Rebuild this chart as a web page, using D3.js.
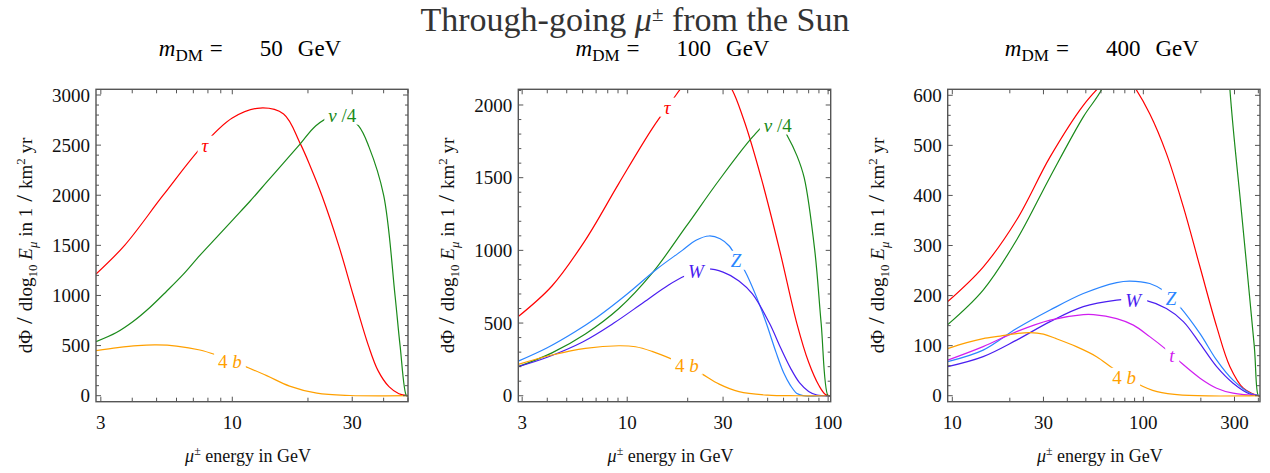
<!DOCTYPE html>
<html><head><meta charset="utf-8">
<script src="https://cdn.jsdelivr.net/npm/d3@7"></script>
<style>
body{margin:0;background:#fff;}
text{font-family:"Liberation Serif","DejaVu Serif",serif;}
</style></head>
<body><svg id="chart" width="1270" height="473"></svg>
<script>
// ---------- data ----------
const mainTitle = ["Through-going ", "μ", "±", " from the Sun"];
const panelMasses = [50, 100, 400];
const xDomains = [[2.87, 50], [2.87, 103], [9.46, 408]];
const yDomains = [[-60, 3057], [-41, 2108], [-12, 612]];
const xTickLabels = [[3, 10, 30], [3, 10, 30, 100], [10, 30, 100, 300]];
const xMinorTicks = [[4,5,6,7,8,9,20,40,50], [4,5,6,7,8,9,20,40,50,60,70,80,90], [20,40,50,60,70,80,90,200,400]];
const yTickLabels = [[0,500,1000,1500,2000,2500,3000], [0,500,1000,1500,2000], [0,100,200,300,400,500,600]];
const yMinorStep = [100, 100, 20];

// panel m=50 GeV  ([E in GeV, flux])
const tau50 = [[2.87,1214],[3.73,1500],[5.31,2000],[7.66,2500],[10,2770],[12.9,2870],[16,2810],[18.6,2520],[20.5,2280],[22.7,2000],[26.5,1500],[30.3,1000],[34.8,500],[38,250],[42,90],[46,20],[50,0]];
const nu50 = [[2.87,539],[3.46,630],[4.03,740],[4.7,880],[5.47,1040],[6.38,1210],[7.43,1400],[8.66,1580],[10.09,1760],[11.76,1940],[13.7,2130],[15.97,2320],[18.6,2510],[21.5,2694],[25,2790],[28,2790],[31.8,2691],[35,2480],[40,2000],[44.4,1000],[46.5,500],[49.3,0],[50,0]];
const b50 = [[2.87,449],[3.5,480],[4.2,500],[5,506],[6,495],[7.43,456],[8.66,406],[9.8,356],[11.06,300],[13.7,200],[16.9,96],[21.7,25],[29.4,2],[50,0]];

// panel m=100 GeV
const tau100 = [[2.87,545],[4.22,755],[6.19,1071],[9.09,1461],[13.34,1839],[16.8,2034],[18.8,2126],[25,2300],[32.2,2140],[38,1900],[46.4,1500],[57.4,1000],[69.8,500],[80,230],[90,70],[97,8],[103,0]];
const nu100 = [[2.87,200],[4.22,295],[6.19,425],[9.09,600],[13.34,845],[19.6,1163],[28.7,1484],[42.2,1782],[50,1880],[56,1890],[63,1782],[70,1650],[76,1500],[85.8,1000],[92.3,500],[100,0],[103,0]];
const Z100 = [[2.87,238],[4,330],[5.5,440],[7.08,540],[10,700],[14,870],[18.8,1000],[22,1070],[25.6,1099],[29,1080],[32.2,1030],[35,950],[38.3,865],[44,680],[49.2,500],[55,300],[60,160],[65,70],[70,15],[75,1],[103,0]];
const W100 = [[2.87,200],[4,265],[6,370],[8.58,500],[12,640],[16,760],[19.5,825],[25,872],[30,850],[36,790],[42,700],[51,500],[58,330],[65,190],[72,90],[80,30],[88,5],[103,0]];
const b100 = [[2.87,216],[4.22,280],[6.19,326],[9.09,344],[11,337],[13.3,305],[16.8,250],[19.8,205],[23.3,154],[28.7,80],[36,28],[50,4],[70,0],[103,0]];

// panel m=400 GeV
const tau400 = [[9.46,188],[14.5,257],[21.7,351],[32.5,477],[48.5,580],[61.7,625],[75,655],[88.7,620],[108,563],[132,484],[162,377],[198,257],[242,138],[284,58],[334,15],[400,0],[408,0]];
const nu400 = [[9.46,142],[14.5,211],[21.7,311],[32.5,437],[48.5,557],[60.6,612],[75,700],[100,900],[160,1200],[210,1300],[250,1000],[284,611],[327,364],[381,98],[400,0],[408,0]];
const Z400 = [[9.46,68],[14.5,91],[21.7,134],[32.5,171],[48.5,204],[72.5,226],[85,229],[108,224],[130,208],[155,178],[198,124],[242,71],[295,31],[363,5],[408,0]];
const W400 = [[9.46,58],[14.5,78],[21.7,111],[32.5,148],[48.5,178],[72.5,191],[88,193],[102,191],[132,174],[162,148],[198,104],[242,58],[295,25],[363,3],[408,0]];
const t400 = [[9.46,71],[14.5,98],[21.7,128],[32.5,151],[48.5,162],[54.8,162],[72.5,154],[88.7,141],[108,118],[130,94],[152,71],[198,35],[242,15],[295,5],[408,0]];
const b400 = [[9.46,94],[11.9,106],[14.5,114],[17.8,119],[21.7,124],[25.5,126],[30,123],[35,114],[44.6,98],[56.9,78],[68,57],[79.4,40],[92,25],[118,8],[160,1],[408,0]];

// series per panel: [key, data, label anchor [E, value]]
const seriesPanel = [
  [["tau", tau50, [7.79, 2501]], ["nu", nu50, [27.4, 2801]], ["b", b50, [9.79, 346]]],
  [["tau", tau100, [15.8, 1986]], ["nu", nu100, [56.2, 1863]], ["Z", Z100, [34.8, 933]], ["W", W100, [22, 857]], ["b", b100, [19.8, 211]]],
  [["tau", tau400, null], ["nu", nu400, null], ["Z", Z400, [139.6, 195]], ["W", W400, [88.4, 191]], ["t", t400, [141, 81]], ["b", b400, [79.4, 37]]]
];

// ---------- style ----------
const colors = {tau:"#ff0000", nu:"#1a8a1a", b:"#ffa000", Z:"#2a85ff", W:"#4a1ef0", t:"#d01ef0"};
const labelParts = {
  tau: [["τ", true]],
  nu: [["ν", true], [" /4", false]],
  b: [["4 ", false], ["b", true]],
  Z: [["Z", true]], W: [["W", true]], t: [["t", true]]
};
const frames = [{left:96, right:408}, {left:518.3, right:830.7}, {left:947.7, right:1260}];
const plotTop = 89.3, plotBottom = 401.7;
const frameColor = "#555";

const svg = d3.select("#chart");
const defs = svg.append("defs");

svg.append("text").attr("x", 635).attr("y", 31).attr("text-anchor", "middle")
  .attr("font-size", 34).attr("fill", "#333")
  .call(t => {
    t.append("tspan").text(mainTitle[0]);
    t.append("tspan").attr("font-style", "italic").text(mainTitle[1]);
    t.append("tspan").attr("font-size", 21).attr("dy", -10).text(mainTitle[2]);
    t.append("tspan").attr("dy", 10).text(mainTitle[3]);
  });

panelMasses.forEach((m, p) => {
  const f = frames[p];
  const x = d3.scaleLog().domain(xDomains[p]).range([f.left, f.right]);
  const y = d3.scaleLinear().domain(yDomains[p]).range([plotBottom, plotTop]);
  const g = svg.append("g");
  const cx = (f.left + f.right) / 2;

  // panel title
  g.append("text").attr("x", cx - 2).attr("y", 56).attr("text-anchor", "middle")
    .attr("font-size", 23).attr("fill", "#000")
    .call(t => {
      t.append("tspan").attr("font-style", "italic").text("m");
      t.append("tspan").attr("font-size", 17).attr("dy", 5).text("DM");
      t.append("tspan").attr("dy", -5).attr("dx", 7).text("=");
      t.append("tspan").attr("dx", 37).text(m);
      t.append("tspan").attr("dx", 15).text("GeV");
    });

  // clip
  defs.append("clipPath").attr("id", "clip" + p).append("rect")
    .attr("x", f.left).attr("y", plotTop).attr("width", f.right - f.left).attr("height", plotBottom - plotTop);
  const plot = g.append("g").attr("clip-path", `url(#clip${p})`);

  const line = d3.line().x(d => x(d[0])).y(d => y(d[1])).curve(d3.curveCatmullRom.alpha(0.5));

  seriesPanel[p].forEach(([key, data, lab], i) => {
    const path = plot.append("path").datum(data).attr("d", line)
      .attr("fill", "none").attr("stroke", colors[key]).attr("stroke-width", 1.2);
    if (lab) {
      const txt = plot.append("text").attr("x", x(lab[0])).attr("y", y(lab[1])).attr("dy", "0.35em")
        .attr("text-anchor", "middle").attr("font-size", 19).attr("fill", colors[key]).style("white-space", "pre");
      labelParts[key].forEach(([s, it]) => txt.append("tspan").attr("font-style", it ? "italic" : "normal").text(s));
      const bb = txt.node().getBBox();
      const id = `mask${p}_${i}`;
      const mk = defs.append("mask").attr("id", id).attr("maskUnits", "userSpaceOnUse")
        .attr("x", 0).attr("y", 0).attr("width", 1270).attr("height", 473);
      mk.append("rect").attr("x", 0).attr("y", 0).attr("width", 1270).attr("height", 473).attr("fill", "white");
      mk.append("rect").attr("x", bb.x - 4).attr("y", bb.y + 1).attr("width", bb.width + 8).attr("height", bb.height - 2).attr("fill", "black");
      path.attr("mask", `url(#${id})`);
    }
  });

  // frame
  g.append("rect").attr("x", f.left).attr("y", plotTop).attr("width", f.right - f.left).attr("height", plotBottom - plotTop)
    .attr("fill", "none").attr("stroke", frameColor).attr("stroke-width", 1.4);

  // y ticks (inward, both sides)
  const [y0, y1] = yDomains[p];
  const minor = d3.range(Math.ceil(y0 / yMinorStep[p]) * yMinorStep[p], y1, yMinorStep[p])
    .filter(v => !yTickLabels[p].includes(v));
  const tk = g.append("g").attr("stroke", frameColor).attr("stroke-width", 1);
  yTickLabels[p].forEach(v => {
    tk.append("line").attr("x1", f.left).attr("x2", f.left + 5).attr("y1", y(v)).attr("y2", y(v));
    tk.append("line").attr("x1", f.right).attr("x2", f.right - 5).attr("y1", y(v)).attr("y2", y(v));
    g.append("text").attr("x", f.left - 6).attr("y", y(v)).attr("dy", "0.35em").attr("text-anchor", "end")
      .attr("font-size", 19).attr("fill", "#111").text(v);
  });
  minor.forEach(v => {
    tk.append("line").attr("x1", f.left).attr("x2", f.left + 3).attr("y1", y(v)).attr("y2", y(v));
    tk.append("line").attr("x1", f.right).attr("x2", f.right - 3).attr("y1", y(v)).attr("y2", y(v));
  });
  // x ticks
  xTickLabels[p].forEach(v => {
    tk.append("line").attr("x1", x(v)).attr("x2", x(v)).attr("y1", plotBottom).attr("y2", plotBottom - 5);
    tk.append("line").attr("x1", x(v)).attr("x2", x(v)).attr("y1", plotTop).attr("y2", plotTop + 5);
    g.append("text").attr("x", x(v)).attr("y", 429).attr("text-anchor", "middle")
      .attr("font-size", 19).attr("fill", "#111").text(v);
  });
  xMinorTicks[p].forEach(v => {
    tk.append("line").attr("x1", x(v)).attr("x2", x(v)).attr("y1", plotBottom).attr("y2", plotBottom - 4);
    tk.append("line").attr("x1", x(v)).attr("x2", x(v)).attr("y1", plotTop).attr("y2", plotTop + 4);
  });

  // x axis label
  g.append("text").attr("x", cx - 4).attr("y", 462).attr("text-anchor", "middle").attr("font-size", 18).attr("fill", "#111")
    .call(t => {
      t.append("tspan").attr("font-style", "italic").text("μ");
      t.append("tspan").attr("font-size", 12).attr("dy", -7).text("±");
      t.append("tspan").attr("dy", 7).text(" energy in GeV");
    });

  // y axis label
  const lx = f.left - 64, ly = (plotTop + plotBottom) / 2;
  g.append("text").attr("transform", `translate(${lx},${ly}) rotate(-90)`).attr("text-anchor", "middle")
    .attr("font-size", 19).attr("fill", "#111")
    .call(t => {
      t.append("tspan").text("dΦ");
      t.append("tspan").attr("font-size", 24).text(" / ");
      t.append("tspan").text("dlog");
      t.append("tspan").attr("font-size", 13).attr("dy", 5).text("10");
      t.append("tspan").attr("dy", -5).attr("font-style", "italic").text(" E");
      t.append("tspan").attr("font-size", 13).attr("dy", 5).attr("font-style", "italic").text("μ");
      t.append("tspan").attr("dy", -5).text(" in 1");
      t.append("tspan").attr("font-size", 24).text(" / ");
      t.append("tspan").text("km");
      t.append("tspan").attr("font-size", 13).attr("dy", -7).text("2");
      t.append("tspan").attr("dy", 7).text(" yr");
    });
});
</script></body></html>
